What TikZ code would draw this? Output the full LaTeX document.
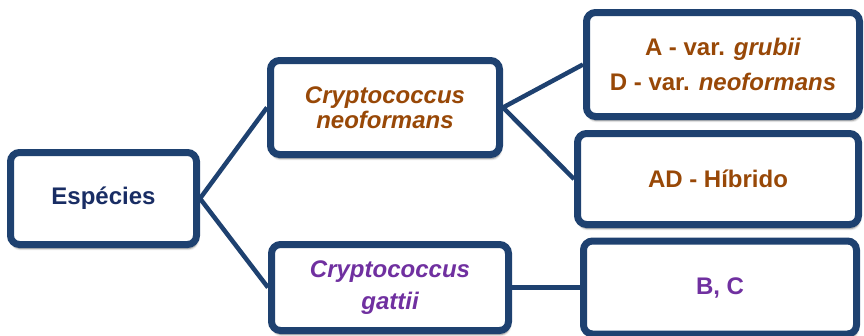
\documentclass[tikz,border=0pt]{standalone}
\usepackage{fontspec}
\setmainfont{Liberation Sans}
\usetikzlibrary{positioning,shadows.blur}
\definecolor{boxnavy}{RGB}{30,65,112}
\definecolor{textnavy}{RGB}{25,45,100}
\definecolor{neobrown}{RGB}{152,72,7}
\definecolor{gattpurple}{RGB}{112,48,160}

\begin{document}
\begin{tikzpicture}[x=1pt, y=1pt,
  taxon/.style={draw=boxnavy, line width=7pt, rounded corners=9pt, fill=white,
                align=center, inner sep=0pt, font=\fontsize{24}{25}\selectfont\bfseries,
                blur shadow={shadow xshift=1pt, shadow yshift=-4pt, shadow blur steps=6,
                             shadow opacity=50}},
  link/.style={draw=boxnavy, line width=4.5pt}]
  \useasboundingbox (0,0) rectangle (864,-335);

  \node[taxon, minimum width=186pt, minimum height=92pt, text=textnavy] (esp) at (103.5,-198.5) {Espécies};
  \node[taxon, minimum width=229pt, minimum height=94pt, text=neobrown,
        right=67pt of esp, yshift=91pt] (neo) {\itshape Cryptococcus\\ \itshape neoformans};
  \node[taxon, minimum width=237pt, minimum height=86pt, text=gattpurple,
        font=\fontsize{24}{32}\selectfont\bfseries,
        right=68pt of esp, yshift=-89pt] (gat) {\itshape Cryptococcus\\ \itshape gattii};
  \node[taxon, minimum width=273pt, minimum height=104pt, text=neobrown,
        font=\fontsize{24}{35}\selectfont\bfseries,
        right=80pt of neo, yshift=43pt] (var) {A - var. \textit{grubii}\\ D - var. \textit{neoformans}};
  \node[taxon, minimum width=281pt, minimum height=91pt, text=neobrown,
        right=71pt of neo, yshift=-71.5pt] (hib) {AD - Híbrido};
  \node[taxon, minimum width=273pt, minimum height=93pt, text=gattpurple,
        right=68pt of gat] (bc) {B, C};

  \draw[link] (esp.east) -- (neo.west);
  \draw[link] (esp.east) -- (gat.west);
  \draw[link] (neo.east) -- (var.west);
  \draw[link] (neo.east) -- (hib.west);
  \draw[link] (gat.east) -- (bc.west);
\end{tikzpicture}
\end{document}
